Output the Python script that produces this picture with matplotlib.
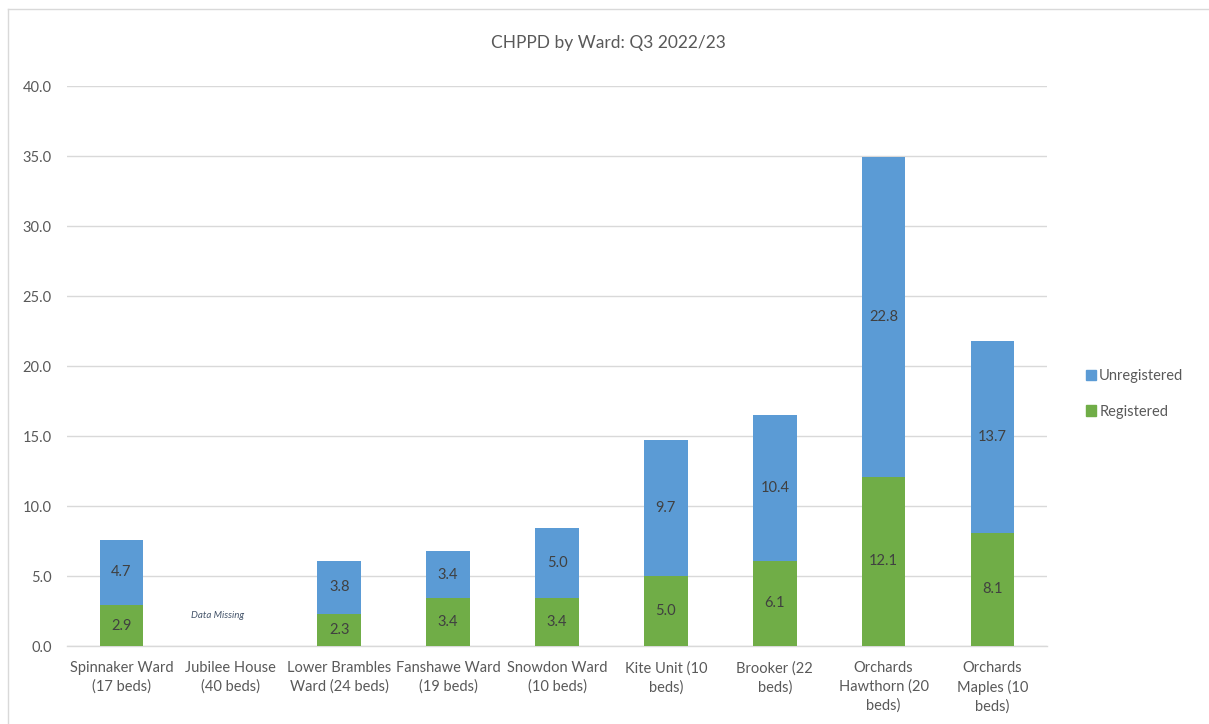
import numpy as np
import matplotlib
matplotlib.use("Agg")
import matplotlib.pyplot as plt
from matplotlib.lines import Line2D

plt.rcParams['font.family'] = ['Lato', 'DejaVu Sans']

wards = ["Spinnaker Ward\n(17 beds)", "Jubilee House\n(40 beds)", "Lower Brambles\nWard (24 beds)",
         "Fanshawe Ward\n(19 beds)", "Snowdon Ward\n(10 beds)", "Kite Unit (10\nbeds)",
         "Brooker (22\nbeds)", "Orchards\nHawthorn (20\nbeds)", "Orchards\nMaples (10\nbeds)"]
registered = [2.9, np.nan, 2.3, 3.4, 3.4, 5.0, 6.1, 12.1, 8.1]
unregistered = [4.7, np.nan, 3.8, 3.4, 5.0, 9.7, 10.4, 22.8, 13.7]
y_ticks = [0, 5, 10, 15, 20, 25, 30, 35, 40]

GREEN = "#70AD47"
BLUE = "#5B9BD5"
TEXT = "#595959"
LABEL = "#404040"

fig = plt.figure(figsize=(12.09, 7.24), dpi=100)
W, H = 1209, 724
ax = fig.add_axes([67 / W, 1 - 646 / H, (1047 - 67) / W, (646 - 86) / H])

x = np.arange(len(wards))
reg = np.array(registered, dtype=float)
unr = np.array(unregistered, dtype=float)
width = 0.4

ax.bar(x, reg, width, color=GREEN, zorder=3)
ax.bar(x, unr, width, bottom=reg, color=BLUE, zorder=3)

for xi, r, u in zip(x, reg, unr):
    if not np.isnan(r):
        ax.text(xi, r / 2, f"{r:.1f}", ha="center", va="center", fontsize=10.5, color=LABEL, zorder=4)
    if not np.isnan(u):
        ax.text(xi, r + u / 2, f"{u:.1f}", ha="center", va="center", fontsize=10.5, color=LABEL, zorder=4)

ax.text(1 - 0.12, 2.2, "Data Missing", ha="center", va="center", fontsize=7,
        style="italic", color="#44546A")

ax.set_xlim(-0.5, len(wards) - 0.5)
ax.set_ylim(0, 40)
ax.set_yticks(y_ticks)
ax.set_yticklabels([f"{v:.1f}" for v in y_ticks], color=TEXT, fontsize=10.5)
ax.set_xticks(x)
ax.set_xticklabels(wards, color=TEXT, fontsize=10.5, linespacing=1.4)
ax.tick_params(axis="both", length=0)
ax.tick_params(axis="y", pad=11)
ax.tick_params(axis="x", pad=11)
ax.yaxis.grid(True, color="#D9D9D9", linewidth=1.0, zorder=0)
ax.set_axisbelow(True)
for side in ["top", "right", "left"]:
    ax.spines[side].set_visible(False)
ax.spines["bottom"].set_color("#D9D9D9")
ax.spines["bottom"].set_linewidth(1.0)

fig.text(0.503, 1 - 43 / H, "CHPPD by Ward: Q3 2022/23",
         ha="center", va="center", fontsize=12.5, color=TEXT)

handles = [plt.Rectangle((0, 0), 1, 1, color=BLUE), plt.Rectangle((0, 0), 1, 1, color=GREEN)]
fig.legend(handles, ["Unregistered", "Registered"], loc="center left",
           bbox_to_anchor=(1073 / W, 1 - 394 / H), frameon=False, fontsize=10.5,
           labelcolor=TEXT, handlelength=0.7, handleheight=0.7, handletextpad=0.2,
           labelspacing=1.45)

# chart frame
fig.add_artist(Line2D([8 / W, 1.0], [1 - 9 / H, 1 - 9 / H], transform=fig.transFigure,
                      color="#D9D9D9", linewidth=1.0))
fig.add_artist(Line2D([8 / W, 8 / W], [0, 1 - 9 / H], transform=fig.transFigure,
                      color="#D9D9D9", linewidth=1.0))

fig.savefig("out.png", dpi=100, facecolor="white")
